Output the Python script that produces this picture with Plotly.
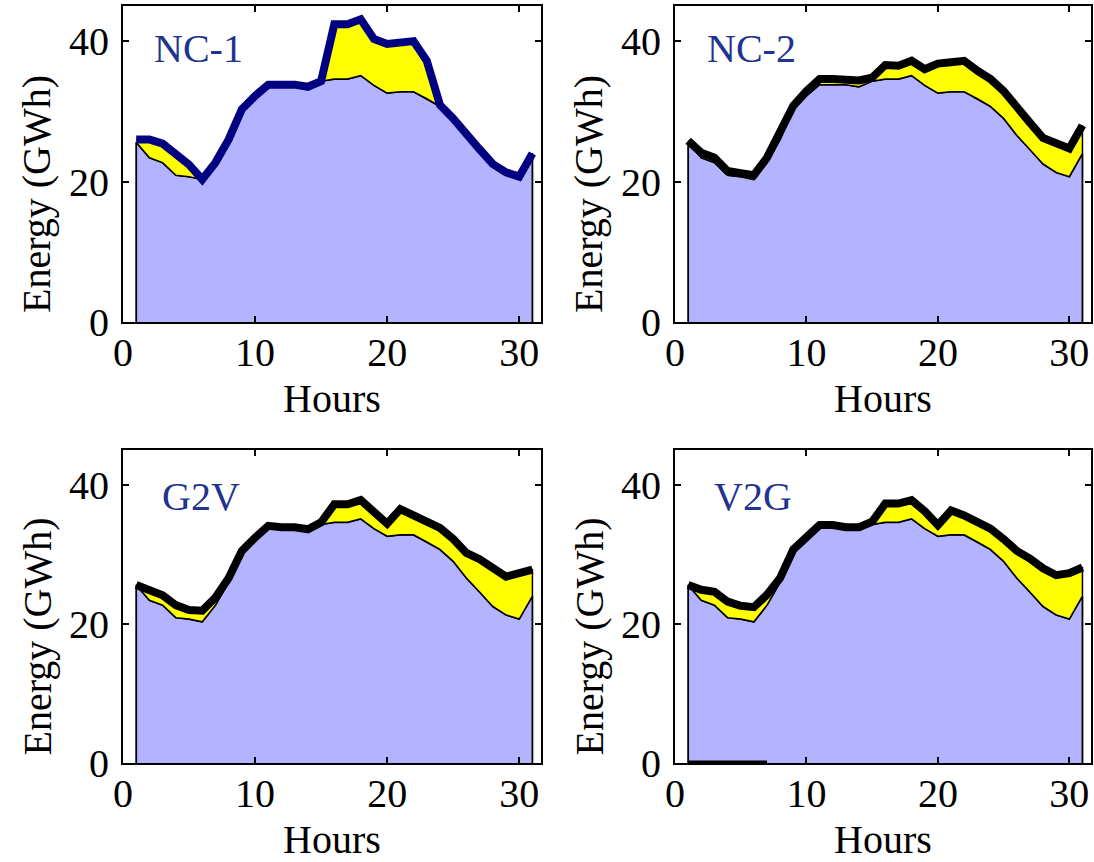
import plotly.graph_objects as go

hours = list(range(1, 32))

base_load = [25.6, 23.4, 22.7, 20.9, 20.7, 20.3, 22.7, 26.0, 30.3, 32.2,
             33.8, 33.8, 33.8, 33.5, 34.3, 34.6, 34.6, 35.1, 33.7, 32.6,
             32.8, 32.8, 31.8, 30.7, 29.0, 26.6, 24.6, 22.5, 21.3, 20.7, 24.0]

nc1_total = [26.0, 26.0, 25.4, 23.9, 22.4, 20.3, 22.7, 26.0, 30.3, 32.2,
             33.8, 33.8, 33.8, 33.5, 34.3, 42.4, 42.4, 43.1, 40.3, 39.6,
             39.8, 40.0, 37.2, 30.9, 29.0, 26.6, 24.6, 22.5, 21.3, 20.7, 24.0]

nc2_total = [25.8, 24.1, 23.4, 21.5, 21.2, 20.9, 23.4, 27.0, 30.8, 32.9,
             34.6, 34.6, 34.6, 34.4, 34.8, 36.6, 36.5, 37.2, 36.0, 36.8,
             37.0, 37.2, 35.8, 34.6, 32.9, 30.5, 28.4, 26.2, 25.4, 24.7, 28.0]

g2v_total = [25.6, 24.7, 24.1, 22.7, 22.0, 21.9, 23.8, 26.6, 30.5, 32.4,
             34.1, 33.9, 33.9, 33.6, 34.6, 37.2, 37.2, 37.8, 36.0, 34.4,
             36.5, 35.7, 34.6, 33.8, 32.2, 30.2, 29.3, 27.9, 26.8, 27.3, 27.8]

v2g_total = [25.6, 24.9, 24.6, 23.2, 22.6, 22.4, 24.2, 26.6, 30.7, 32.6,
             34.2, 34.2, 33.9, 33.9, 34.7, 37.3, 37.3, 37.8, 36.2, 34.2,
             36.3, 35.6, 34.8, 33.7, 32.2, 30.5, 29.4, 28.0, 27.0, 27.3, 28.1]

v2g_hours = [1, 2, 3, 4, 5, 6, 7]
v2g_discharge = [0, 0, 0, 0, 0, 0, 0]

panel_titles = ["NC-1", "NC-2", "G2V", "V2G"]
panel_totals = [nc1_total, nc2_total, g2v_total, v2g_total]
panel_line_colors = ["#000080", "#000000", "#000000", "#000000"]

x_ticks = [0, 10, 20, 30]
y_ticks = [0, 20, 40]
x_title = "Hours"
y_title = "Energy (GWh)"

LAV = "#b3b3ff"
YEL = "#ffff00"
FONT = "Liberation Serif, Times New Roman, serif"
FS = 40

W, H = 1094, 862
# plot-area pixel boxes (left, top, right, bottom)
boxes = [(123, 6, 541, 322), (675, 6, 1091, 322),
         (123, 450, 541, 763), (675, 450, 1091, 763)]
label_pos = [(0.069, 0.867), (0.072, 0.867), (0.089, 0.85), (0.089, 0.85)]

fig = go.Figure()
for i in range(4):
    ax = "" if i == 0 else str(i + 1)
    xa, ya = "x" + ax, "y" + ax
    total = panel_totals[i]
    # base load area
    fig.add_trace(go.Scatter(
        x=[hours[0]] + hours + [hours[-1]], y=[0] + base_load + [0],
        fill="toself", fillcolor=LAV, mode="lines",
        line=dict(color="black", width=1.8), xaxis=xa, yaxis=ya,
        showlegend=False, hoverinfo="skip"))
    # EV load area
    fig.add_trace(go.Scatter(
        x=hours + hours[::-1], y=total + base_load[::-1],
        fill="toself", fillcolor=YEL, mode="lines",
        line=dict(color="black", width=1.5), xaxis=xa, yaxis=ya,
        showlegend=False, hoverinfo="skip"))
    if i == 3:
        fig.add_trace(go.Scatter(
            x=v2g_hours, y=v2g_discharge, mode="lines",
            line=dict(color="black", width=5), xaxis=xa, yaxis=ya,
            showlegend=False, hoverinfo="skip"))
    # total load line
    fig.add_trace(go.Scatter(
        x=hours, y=total, mode="lines",
        line=dict(color=panel_line_colors[i], width=8),
        xaxis=xa, yaxis=ya, showlegend=False, hoverinfo="skip"))

    l, t, r, b = boxes[i]
    common = dict(showline=True, linecolor="black", linewidth=2, mirror="allticks",
                  ticks="inside", ticklen=6, tickwidth=1.5, tickcolor="black",
                  showgrid=False, zeroline=False, automargin=False,
                  tickfont=dict(family=FONT, size=FS, color="black"))
    fig.layout["xaxis" + ax] = dict(
        domain=[l / W, r / W], anchor=ya, range=[0, 31.65],
        tickvals=x_ticks, ticktext=[str(v) for v in x_ticks],
        title=dict(text=x_title, font=dict(family=FONT, size=FS, color="black"), standoff=10),
        ticklabelstandoff=-6, **common)
    fig.layout["yaxis" + ax] = dict(
        domain=[1 - b / H, 1 - t / H], anchor=xa, range=[0, 45],
        tickvals=y_ticks, ticktext=[str(v) for v in y_ticks],
        ticklabelstandoff=4, **common)
    # y-axis label (placed slightly below the axis centre, as in the original)
    fig.add_annotation(
        text=y_title, xref="paper", yref="paper", textangle=-90,
        x=(l - 86) / W, y=1 - ((t + b) / 2 + 30) / H,
        xanchor="center", yanchor="middle", showarrow=False,
        font=dict(family=FONT, size=FS, color="black"))
    fig.add_annotation(
        text=panel_titles[i], xref=xa + " domain", yref=ya + " domain",
        x=label_pos[i][0], y=label_pos[i][1], xanchor="left", yanchor="middle",
        showarrow=False, font=dict(family=FONT, size=FS, color="#1f3390"))

fig.update_layout(template="none", width=W, height=H,
                  margin=dict(l=0, r=0, t=0, b=0, autoexpand=False),
                  paper_bgcolor="white", plot_bgcolor="white")
fig.write_html("out.html")
